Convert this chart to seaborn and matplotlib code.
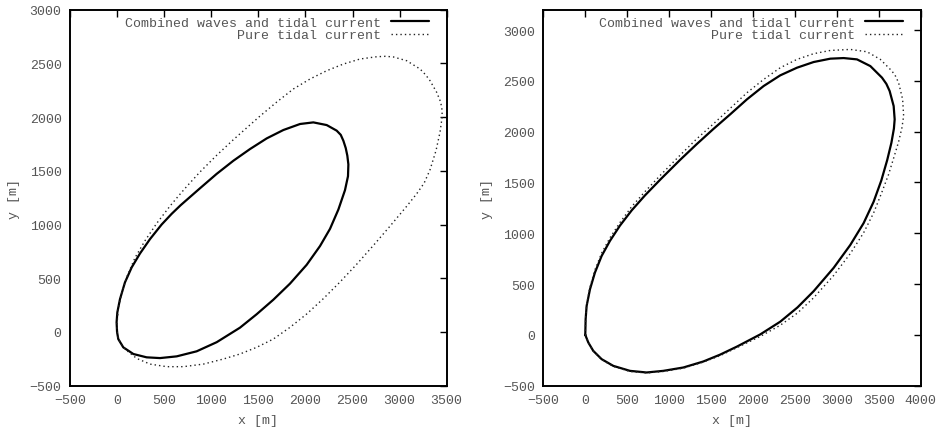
import numpy as np
import pandas as pd
import seaborn as sns
import matplotlib
matplotlib.use("Agg")
import matplotlib.pyplot as plt

# Left panel: trajectories (x, y in metres)
left_combined_x = [0, 13, 66, 173, 314, 456, 633, 845, 1058, 1305, 1482, 1659, 1836, 2013, 2155,
                   2261, 2350, 2420, 2452, 2456, 2445, 2428, 2403, 2375, 2332, 2226, 2084, 1943,
                   1766, 1589, 1412, 1235, 1058, 881, 757, 675, 580, 473, 350, 243, 155, 84, 31,
                   3, -5, 0]
left_combined_y = [0, -66, -143, -205, -236, -243, -227, -180, -95, 40, 165, 300, 450, 625, 800,
                   960, 1140, 1320, 1450, 1560, 1641, 1712, 1780, 1835, 1874, 1926, 1951, 1936,
                   1880, 1802, 1703, 1594, 1472, 1338, 1243, 1180, 1100, 1000, 865, 730, 601, 462,
                   306, 183, 90, 0]

left_tidal_x = [0, 13, 84, 208, 350, 527, 704, 916, 1128, 1305, 1482, 1659, 1836, 2013, 2190, 2367,
                2544, 2721, 2898, 3075, 3180, 3260, 3323, 3387, 3429, 3450, 3452, 3436, 3394, 3323,
                3275, 3217, 3075, 2934, 2850, 2757, 2580, 2403, 2226, 2049, 1872, 1695, 1518, 1412,
                1235, 1058, 881, 740, 651, 562, 420, 297, 190, 102, 49, 13, 0, 0]
left_tidal_y = [0, -66, -159, -246, -299, -323, -323, -299, -252, -205, -143, -66, 43, 167, 310, 465,
                630, 805, 985, 1170, 1285, 1385, 1510, 1690, 1860, 1990, 2060, 2140, 2230, 2339,
                2395, 2448, 2525, 2560, 2566, 2562, 2541, 2494, 2432, 2355, 2262, 2140, 2010, 1928,
                1790, 1645, 1490, 1355, 1265, 1172, 1010, 850, 690, 510, 360, 220, 80, 0]

# Right panel
right_combined_x = [0, 36, 95, 195, 334, 533, 731, 930, 1169, 1407, 1606, 1809, 2087, 2325, 2530,
                    2723, 2962, 3160, 3319, 3438, 3530, 3600, 3650, 3680, 3689, 3677, 3629, 3590,
                    3538, 3399, 3240, 3081, 2922, 2723, 2524, 2325, 2127, 1928, 1729, 1530, 1330,
                    1133, 900, 712, 553, 413, 294, 195, 115, 56, 16, 4, 0]
right_combined_y = [0, -75, -157, -239, -305, -354, -370, -354, -321, -262, -195, -115, 5, 130, 270,
                    430, 660, 885, 1100, 1310, 1520, 1720, 1890, 2030, 2121, 2252, 2400, 2470,
                    2531, 2645, 2711, 2724, 2718, 2685, 2629, 2554, 2449, 2318, 2171, 2028, 1878,
                    1724, 1533, 1373, 1225, 1075, 925, 777, 613, 449, 285, 154, 0]

right_tidal_x = [0, 36, 95, 195, 334, 533, 731, 930, 1169, 1407, 1606, 1809, 2087, 2325, 2530, 2723,
                 2962, 3160, 3319, 3438, 3530, 3617, 3677, 3736, 3776, 3796, 3784, 3736, 3700, 3657,
                 3518, 3359, 3160, 2922, 2723, 2524, 2325, 2127, 1928, 1729, 1530, 1330, 1133, 900,
                 712, 553, 413, 294, 195, 115, 56, 16, 4, 0]
right_tidal_y = [0, -75, -160, -243, -310, -360, -375, -360, -328, -268, -205, -125, -15, 95, 215, 365,
                 585, 800, 1005, 1200, 1390, 1580, 1740, 1900, 2040, 2154, 2318, 2481, 2545, 2596,
                 2711, 2786, 2809, 2799, 2767, 2711, 2629, 2514, 2383, 2230, 2078, 1930, 1770, 1575,
                 1410, 1262, 1105, 955, 805, 640, 470, 300, 160, 0]

labels = ["Combined waves and tidal current", "Pure tidal current"]
left_xticks = list(range(-500, 3501, 500))
left_yticks = list(range(-500, 3001, 500))
right_xticks = list(range(-500, 4001, 500))
right_yticks = list(range(-500, 3001, 500))

sns.set_style("white")
plt.rcParams["font.family"] = ["Liberation Mono", "DejaVu Sans Mono"]
TEXT = "#555555"


def draw_panel(ax, cx, cy, tx, ty, xlim, ylim, xticks, yticks):
    sns.lineplot(x=cx, y=cy, sort=False, estimator=None, ax=ax, color="black",
                 linewidth=1.6, label=labels[0])
    sns.lineplot(x=tx, y=ty, sort=False, estimator=None, ax=ax, color="#222222",
                 linewidth=1.0, linestyle=(0, (1, 2.2)), label=labels[1])
    ax.set_xlim(*xlim)
    ax.set_ylim(*ylim)
    ax.set_xticks(xticks)
    ax.set_yticks(yticks)
    ax.tick_params(direction="in", length=5, width=1, top=True, right=True,
                   labelsize=9.5, labelcolor=TEXT, pad=6, color="black")
    for s in ax.spines.values():
        s.set_visible(True)
        s.set_color("black")
        s.set_linewidth(1.4)
    ax.set_xlabel("x [m]", fontsize=9.5, color=TEXT, labelpad=6)
    ax.set_ylabel("y [m]", fontsize=9.5, color=TEXT, labelpad=7)
    leg = ax.legend(loc="upper right", bbox_to_anchor=(0.971, 1.0), frameon=False,
                    markerfirst=False, fontsize=9.5, handlelength=2.9, handletextpad=0.75,
                    labelspacing=0.05, borderaxespad=0.2, borderpad=0.3)
    for t in leg.get_texts():
        t.set_color(TEXT)


fig = plt.figure(figsize=(9.43, 4.31), dpi=100)
ax1 = fig.add_axes([0.0742, 0.1028, 0.3995, 0.8724])
ax2 = fig.add_axes([0.5762, 0.1028, 0.4002, 0.8724])

draw_panel(ax1, left_combined_x, left_combined_y, left_tidal_x, left_tidal_y,
           (-500, 3500), (-500, 3000), left_xticks, left_yticks)
draw_panel(ax2, right_combined_x, right_combined_y, right_tidal_x, right_tidal_y,
           (-500, 4000), (-500, 3200), right_xticks, right_yticks)

fig.savefig("out.png", dpi=100)
